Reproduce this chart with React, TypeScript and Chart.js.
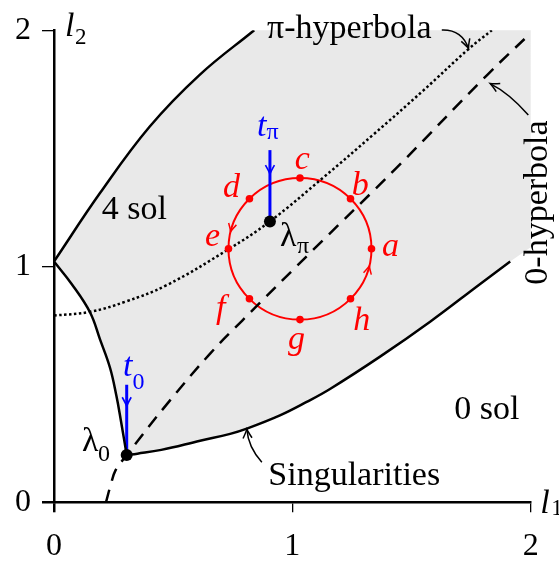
import React, { useEffect, useRef } from "react";
import { Chart, registerables } from "chart.js";
Chart.register(...registerables);

type P = [number, number];

// ---------- data ----------
const xTickValues = [0, 1, 2];
const yTickValues = [0, 1, 2];

const upperBoundary: P[] = [[0, 1.02], [0.193, 1.31], [0.4, 1.59], [0.61, 1.81], [0.84, 2.0]];
const leftBoundary: P[] = [[0, 1.02], [0.074, 0.925], [0.151, 0.805], [0.193, 0.69], [0.235, 0.57], [0.262, 0.45], [0.28, 0.35], [0.305, 0.2]];
const singularities: P[] = [[0.305, 0.2], [0.35, 0.206], [0.45, 0.222], [0.613, 0.261], [0.739, 0.29], [0.809, 0.312], [0.948, 0.368], [1.06, 0.425], [1.158, 0.48], [1.368, 0.617], [1.578, 0.765], [1.788, 0.925], [1.914, 1.02]];
const regionRightEdge: P[] = [[2, 2], [2, 1.08]];
const piHyperbola: P[] = [[0, 0.791], [0.151, 0.807], [0.3, 0.85], [0.473, 0.92], [0.732, 1.072], [0.906, 1.19], [1.13, 1.376], [1.34, 1.558], [1.55, 1.745], [1.739, 1.92], [1.837, 2.0]];
const zeroHyperbola: P[] = [[0.218, 0], [0.237, 0.07], [0.258, 0.135], [0.305, 0.2], [0.473, 0.415], [0.655, 0.63], [0.79, 0.77], [1.088, 1.07], [1.438, 1.418], [1.816, 1.809], [1.997, 1.985]];

const lambdaPoints: P[] = [[0.305, 0.2], [0.906, 1.19]];
const lambdaSubs = ["0", "π"];
const lambdaLabelPos: P[] = [[0.117, 0.219], [0.948, 1.085]];
const lambdaSubPos: P[] = [[0.185, 0.177], [1.02, 1.056]];

const tArrowTops: P[] = [[0.305, 0.498], [0.906, 1.492]];
const tArrowTips: P[] = [[0.305, 0.407], [0.906, 1.39]];
const tLabelPos: P[] = [[0.29, 0.533], [0.852, 1.551]];
const tSubPos: P[] = [[0.329, 0.482], [0.892, 1.541]];
const tSubs = ["0", "π"];

const loopCenter: P = [1.032, 1.074];
const loopRadius = 0.3;
const loopNames = ["a", "b", "c", "d", "e", "f", "g", "h"];
const loopPoints: P[] = [[1.332, 1.074], [1.244, 1.286], [1.032, 1.374], [0.82, 1.286], [0.732, 1.074], [0.82, 0.862], [1.032, 0.774], [1.244, 0.862]];
const loopLabelPos: P[] = [[1.376, 1.043], [1.249, 1.3], [1.01, 1.411], [0.709, 1.294], [0.634, 1.085], [0.68, 0.78], [0.982, 0.65], [1.255, 0.729]];
const loopArrowAnglesDeg = [-14, 166];

const regionLabels = [
  { text: "4 sol", x: 0.2, y: 1.202 },
  { text: "0 sol", x: 1.679, y: 0.351 },
  { text: "Singularities", x: 0.899, y: 0.072 },
  { text: "π-hyperbola", x: 0.894, y: 1.969 },
];
const rotatedLabel = { text: "0-hyperbola", x: 2.069, y: 0.922 };
const pointerArrows: { from: P; via: P; to: P }[] = [
  { from: [0.872, 0.17], via: [0.815, 0.233], to: [0.809, 0.31] },
  { from: [1.627, 2.001], via: [1.711, 2.004], to: [1.739, 1.923] },
  { from: [1.99, 1.641], via: [1.909, 1.734], to: [1.83, 1.774] },
];
const axisTitles = [
  { main: "l", sub: "2", pos: [0.046, 1.976] as P, subPos: [0.088, 1.943] as P },
  { main: "l", sub: "1", pos: [2.04, -0.044] as P, subPos: [2.086, -0.053] as P },
];

// ---------- styles ----------
const SERIF = "'Liberation Serif', 'DejaVu Serif', serif";
const GRAY = "#e9e9e9";
const RED = "#ff0000";
const BLUE = "#0000ff";

const toXY = (arr: P[]) => arr.map(([x, y]) => ({ x, y }));

function trace(ctx: CanvasRenderingContext2D, pts: any[], reverse: boolean, first: boolean) {
  const list = reverse ? [...pts].reverse() : pts;
  list.forEach((p: any, i: number) => {
    if (i === 0) {
      if (first) ctx.moveTo(p.x, p.y);
      else ctx.lineTo(p.x, p.y);
      return;
    }
    const prev = list[i - 1];
    if (prev.cp2x === undefined) {
      ctx.lineTo(p.x, p.y);
    } else if (!reverse) {
      ctx.bezierCurveTo(prev.cp2x, prev.cp2y, p.cp1x, p.cp1y, p.x, p.y);
    } else {
      ctx.bezierCurveTo(prev.cp1x, prev.cp1y, p.cp2x, p.cp2y, p.x, p.y);
    }
  });
}

function arrowHead(ctx: CanvasRenderingContext2D, x: number, y: number, angle: number, L: number, W: number) {
  ctx.save();
  ctx.translate(x, y);
  ctx.rotate(angle);
  ctx.beginPath();
  ctx.moveTo(-L, -W);
  ctx.quadraticCurveTo(-L * 0.35, -W * 0.25, 0, 0);
  ctx.quadraticCurveTo(-L * 0.35, W * 0.25, -L, W);
  ctx.stroke();
  ctx.restore();
}

const regionPlugin = {
  id: "regionPlugin",
  beforeDatasetsDraw(chart: any) {
    const ctx: CanvasRenderingContext2D = chart.ctx;
    const xs = chart.scales.x;
    const ys = chart.scales.y;
    const X = (v: number) => xs.getPixelForValue(v);
    const Y = (v: number) => ys.getPixelForValue(v);
    const metas = [0, 1, 2].map((i) => chart.getDatasetMeta(i));
    metas.forEach((m: any) => m.dataset.updateControlPoints(chart.chartArea, "x"));
    const [up, left, low] = metas.map((m: any) => m.data);

    ctx.save();
    ctx.beginPath();
    trace(ctx, up, false, true);
    regionRightEdge.forEach(([x, y]) => ctx.lineTo(X(x), Y(y)));
    trace(ctx, low, true, false);
    trace(ctx, left, true, false);
    ctx.closePath();
    ctx.fillStyle = GRAY;
    ctx.fill();

    // red loop
    ctx.strokeStyle = RED;
    ctx.lineWidth = 2;
    const cx = X(loopCenter[0]);
    const cy = Y(loopCenter[1]);
    const rx = X(loopCenter[0] + loopRadius) - cx;
    const ry = cy - Y(loopCenter[1] + loopRadius);
    ctx.beginPath();
    ctx.ellipse(cx, cy, rx, ry, 0, 0, Math.PI * 2);
    ctx.stroke();
    ctx.lineWidth = 1.5;
    loopArrowAnglesDeg.forEach((deg) => {
      const t = (deg * Math.PI) / 180;
      const px = cx + rx * Math.cos(t);
      const py = cy - ry * Math.sin(t);
      const ang = Math.atan2(-Math.cos(t), -Math.sin(t));
      arrowHead(ctx, px, py, ang, 8, 4);
    });

    // blue t arrows
    ctx.strokeStyle = BLUE;
    tArrowTops.forEach((top, i) => {
      const bot = lambdaPoints[i];
      ctx.lineWidth = 3;
      ctx.beginPath();
      ctx.moveTo(X(top[0]), Y(top[1]));
      ctx.lineTo(X(bot[0]), Y(bot[1]));
      ctx.stroke();
      ctx.lineWidth = 1.6;
      arrowHead(ctx, X(tArrowTips[i][0]), Y(tArrowTips[i][1]), Math.PI / 2, 9, 4.5);
    });
    ctx.restore();
  },
};

const annotationPlugin = {
  id: "annotationPlugin",
  afterDraw(chart: any) {
    const ctx: CanvasRenderingContext2D = chart.ctx;
    const xs = chart.scales.x;
    const ys = chart.scales.y;
    const X = (v: number) => xs.getPixelForValue(v);
    const Y = (v: number) => ys.getPixelForValue(v);
    ctx.save();
    ctx.textAlign = "left";
    ctx.textBaseline = "alphabetic";

    // region labels
    ctx.fillStyle = "#000";
    ctx.font = `34px ${SERIF}`;
    regionLabels.forEach((l) => ctx.fillText(l.text, X(l.x), Y(l.y)));

    ctx.save();
    ctx.translate(X(rotatedLabel.x), Y(rotatedLabel.y));
    ctx.rotate(-Math.PI / 2);
    ctx.fillText(rotatedLabel.text, 0, 0);
    ctx.restore();

    // pointer arrows
    ctx.strokeStyle = "#000";
    ctx.lineWidth = 1.5;
    pointerArrows.forEach((a) => {
      const fx = X(a.from[0]), fy = Y(a.from[1]);
      const vx = X(a.via[0]), vy = Y(a.via[1]);
      const tx = X(a.to[0]), ty = Y(a.to[1]);
      ctx.beginPath();
      ctx.moveTo(fx, fy);
      ctx.quadraticCurveTo(vx, vy, tx, ty);
      ctx.stroke();
      arrowHead(ctx, tx, ty, Math.atan2(ty - vy, tx - vx), 9, 4.5);
    });

    // lambda labels
    lambdaPoints.forEach((_, i) => {
      ctx.font = `34px ${SERIF}`;
      ctx.fillText("λ", X(lambdaLabelPos[i][0]), Y(lambdaLabelPos[i][1]));
      ctx.font = `24px ${SERIF}`;
      ctx.fillText(lambdaSubs[i], X(lambdaSubPos[i][0]), Y(lambdaSubPos[i][1]));
    });

    // t labels
    ctx.fillStyle = BLUE;
    tLabelPos.forEach((p, i) => {
      ctx.font = `italic 34px ${SERIF}`;
      ctx.fillText("t", X(p[0]), Y(p[1]));
      ctx.font = `24px ${SERIF}`;
      ctx.fillText(tSubs[i], X(tSubPos[i][0]), Y(tSubPos[i][1]));
    });

    // loop labels
    ctx.fillStyle = RED;
    ctx.font = `italic 34px ${SERIF}`;
    loopNames.forEach((n, i) => ctx.fillText(n, X(loopLabelPos[i][0]), Y(loopLabelPos[i][1])));

    // axis titles
    ctx.fillStyle = "#000";
    axisTitles.forEach((t) => {
      ctx.font = `italic 34px ${SERIF}`;
      ctx.fillText(t.main, X(t.pos[0]), Y(t.pos[1]));
      ctx.font = `23px ${SERIF}`;
      ctx.fillText(t.sub, X(t.subPos[0]), Y(t.subPos[1]));
    });
    ctx.restore();
  },
};

export default function App() {
  const ref = useRef<HTMLCanvasElement>(null);
  useEffect(() => {
    const canvas = ref.current!;
    const tickFont = { family: SERIF, size: 32 };
    const lineBase = { showLine: true, pointRadius: 0, borderColor: "#000", borderWidth: 2.5, tension: 0.4, fill: false };
    const chart = new Chart(canvas, {
      type: "scatter",
      data: {
        datasets: [
          { ...lineBase, label: "upper", data: toXY(upperBoundary), order: 5 },
          { ...lineBase, label: "left", data: toXY(leftBoundary), order: 5 },
          { ...lineBase, label: "Singularities", data: toXY(singularities), order: 5 },
          { ...lineBase, label: "π-hyperbola", data: toXY(piHyperbola), borderDash: [2.5, 2.5], order: 4 },
          { ...lineBase, label: "0-hyperbola", data: toXY(zeroHyperbola), borderDash: [13, 9], order: 4 },
          { label: "loop", data: toXY(loopPoints), showLine: false, pointRadius: 3.8, backgroundColor: RED, borderWidth: 0, order: 1 },
          { label: "lambda", data: toXY(lambdaPoints), showLine: false, pointRadius: 6, backgroundColor: "#000", borderWidth: 0, order: 0 },
        ],
      } as any,
      options: {
        responsive: false,
        animation: false,
        devicePixelRatio: 1,
        events: [],
        layout: { padding: { left: 0, right: 28.3, top: 24.3, bottom: 0 } },
        plugins: { legend: { display: false }, tooltip: { enabled: false } },
        scales: {
          x: {
            type: "linear",
            min: 0,
            max: 2,
            position: "bottom",
            afterFit: (s: any) => { s.height = 58.7; },
            afterBuildTicks: (s: any) => { s.ticks = xTickValues.map((v) => ({ value: v })); },
            ticks: { font: tickFont, color: "#000", padding: 15, maxRotation: 0, callback: (v: any) => String(v) },
            grid: { drawOnChartArea: false, drawTicks: true, tickLength: 10, color: "#000", lineWidth: (c: any) => (c.tick && c.tick.value === 0 ? 2.5 : 1.3) },
            border: { display: true, color: "#000", width: 2.5 },
          },
          y: {
            type: "linear",
            min: 0,
            max: 2,
            position: "left",
            afterFit: (s: any) => { s.width = 54; },
            afterBuildTicks: (s: any) => { s.ticks = yTickValues.map((v) => ({ value: v })); },
            ticks: { font: tickFont, color: "#000", padding: 11, callback: (v: any) => String(v) },
            grid: { drawOnChartArea: false, drawTicks: true, tickLength: 12, color: "#000", lineWidth: (c: any) => (c.tick && c.tick.value === 0 ? 2.5 : 1.3) },
            border: { display: true, color: "#000", width: 2.5 },
          },
        },
      } as any,
      plugins: [regionPlugin, annotationPlugin],
    });
    return () => chart.destroy();
  }, []);
  return (
    <div style={{ position: "fixed", left: 0, top: 0, width: 559, height: 561, background: "#fff" }}>
      <canvas ref={ref} width={559} height={561} style={{ display: "block", width: 559, height: 561 }} />
    </div>
  );
}
